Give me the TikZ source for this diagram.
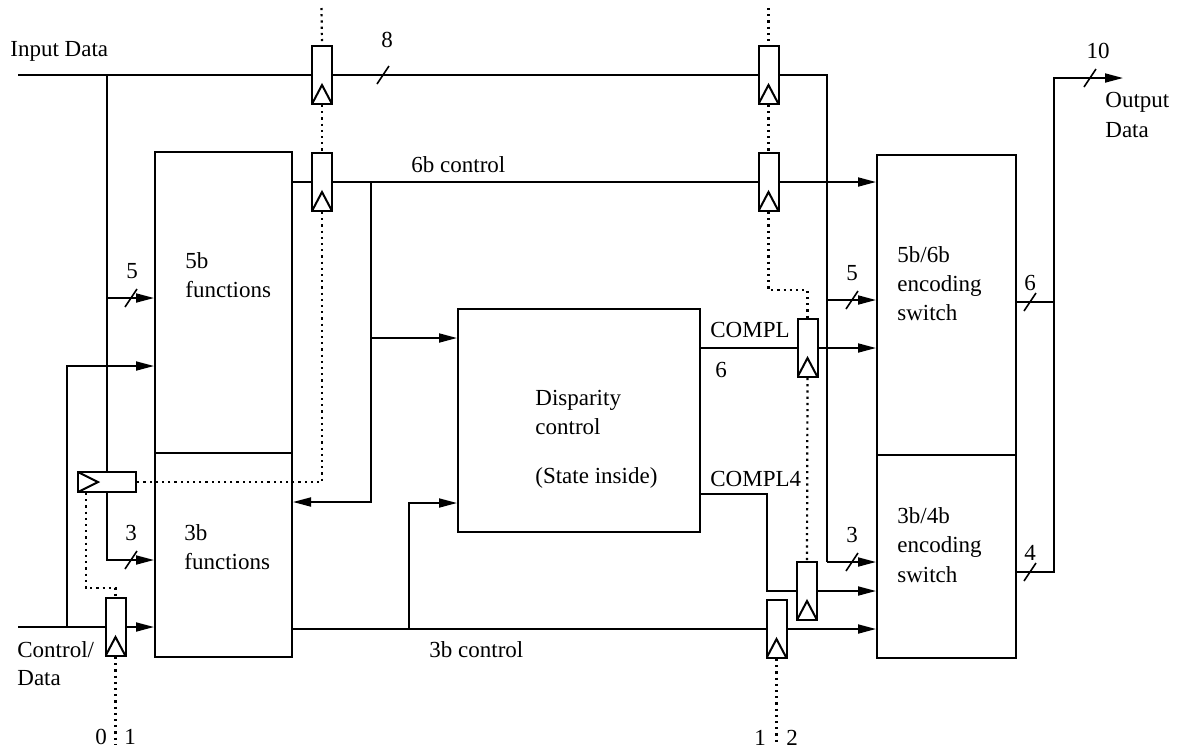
\documentclass[tikz,border=0pt]{standalone}
\usepackage{fontspec}
\setmainfont{Liberation Serif}
\usetikzlibrary{arrows.meta}
\begin{document}
\begin{tikzpicture}[x=0.5pt,y=-0.5pt,font=\fontsize{11.5}{14}\selectfont,
  box/.style={draw,line width=1pt,inner sep=0pt},
  reg/.style={draw,line width=1pt,fill=white,inner sep=0pt,minimum width=10pt,minimum height=29pt,
    path picture={\draw[line width=1pt] (path picture bounding box.south west) -- ([yshift=9.5pt]path picture bounding box.south) -- (path picture bounding box.south east);}},
  hreg/.style={draw,line width=1pt,fill=white,inner sep=0pt,minimum width=29pt,minimum height=10pt,
    path picture={\draw[line width=1pt] (path picture bounding box.north west) -- ([xshift=10pt]path picture bounding box.west) -- (path picture bounding box.south west);}},
  wire/.style={line width=0.9pt},
  arr/.style={wire,-{Triangle[length=9pt,width=4.5pt]}},
  clk/.style={line width=1.1pt,dash pattern=on 1.1pt off 2pt},
  slash/.style={line width=0.8pt},
  txt/.style={inner sep=0pt,anchor=base west},
  txc/.style={inner sep=0pt,anchor=base}]
\useasboundingbox (0,0) rectangle (1179,751);
% boxes
\node[box,minimum width=68.5pt,minimum height=150.5pt] (f5) at (223.5,302.5) {};
\node[box,minimum width=68.5pt,minimum height=102pt] (f3) at (223.5,555) {};
\node[box,minimum width=121pt,minimum height=111.5pt] (disp) at (579,420.5) {};
\node[box,minimum width=69.5pt,minimum height=150pt] (s56) at (946.5,305) {};
\node[box,minimum width=69.5pt,minimum height=101.5pt] (s34) at (946.5,556.5) {};
% registers
\node[reg] (ri1) at (322,75) {};
\node[reg] (ri2) at (768.5,75) {};
\node[reg] (rc1) at (322,182) {};
\node[reg] (rc2) at (768.5,182) {};
\node[reg] (rcp) at (807.5,348) {};
\node[reg] (rc4) at (807,591) {};
\node[reg] (r3b) at (776.5,629) {};
\node[reg] (rcd) at (115.5,627) {};
\node[hreg] (rh) at (107,482) {};
% named points
\coordinate (inL) at (18,75);
\coordinate (jR1) at (827,75);
\coordinate (jR2) at (827,562);
\coordinate (jR3) at (827,300);
\coordinate (cdL) at (18,627);
\coordinate (jC) at (67,627);
\coordinate (j6) at (371,182);
\coordinate (j6b) at (371,338);
\coordinate (j3) at (409,629);
\coordinate (jO) at (1054,302);
\coordinate (outE) at (1123,78);
% input data
\draw[wire] (inL) -- (ri1.west);
\draw[wire] (ri1.east) -- (ri2.west);
\draw[wire] (ri2.east) -- (jR1) -- (jR2);
\draw[arr] (jR2) -- (jR2 -| s34.west);
\draw[arr] (jR3) -- (jR3 -| s56.west);
\draw[wire] (rh.north |- inL) -- (rh.north);
\draw[arr] (rh.north |- 0,298) -- (f5.west |- 0,298);
\draw[arr] (rh.south) |- (f3.west |- 0,560);
% control/data
\draw[wire] (cdL) -- (rcd.west);
\draw[arr] (rcd.east) -- (rcd.east -| f3.west);
\draw[arr] (jC) |- (f5.west |- 0,366);
% 6b control
\draw[wire] (f5.east |- rc1) -- (rc1.west);
\draw[wire] (rc1.east) -- (rc2.west);
\draw[arr] (rc2.east) -- (rc2.east -| s56.west);
\draw[arr] (j6) |- (f3.east |- 0,502);
\draw[arr] (j6b) -- (j6b -| disp.west);
% 3b control
\draw[wire] (f3.east |- r3b) -- (r3b.west);
\draw[arr] (r3b.east) -- (r3b.east -| s34.west);
\draw[arr] (j3) |- (disp.west |- 0,503);
% disparity outputs
\draw[wire] (disp.east |- rcp) -- (rcp.west);
\draw[arr] (rcp.east) -- (rcp.east -| s56.west);
\draw[wire] (disp.east |- 0,494) -| (767,591) -- (rc4.west);
\draw[arr] (rc4.east) -- (rc4.east -| s34.west);
% outputs
\draw[wire] (s56.east |- jO) -- (jO);
\draw[arr] (s34.east |- 0,572) -| (jO |- outE) -- (outE);
% clocks
\draw[clk] (321.5,8) -- (ri1.north);
\draw[clk] (ri1.south) -- (rc1.north);
\draw[clk] (rc1.south) |- (rh.east);
\draw[clk] ([xshift=4.5pt]rh.south west) |- (rcd.north |- 0,588) -- (rcd.north);
\draw[clk] (rcd.south) -- (rcd.south |- 0,745);
\draw[clk] (768.5,8) -- (ri2.north);
\draw[clk] (ri2.south) -- (rc2.north);
\draw[clk] (rc2.south) |- (rcp.north |- 0,290) -- (rcp.north);
\draw[clk] (rcp.south) -- (rc4.north);
\draw[clk] (r3b.south) -- (r3b.south |- 0,745);
% bus slashes
\foreach \px/\py in {383/75,131/298,131/560,852/300,852/562,1030/302,1030/572,1090/78}
  \draw[slash] ([shift={(-6,9)}]\px,\py) -- ++(12,-18);
% labels
\node[txt] (tin) at (10,56) {Input Data};
\node[txc] (t8) at (387,47) {8};
\node[txt] (t6b) at (411,172) {6b control};
\node[txc] (t10) at (1098,58) {10};
\node[txt] (tout1) at (1105,107) {Output};
\node[txt] (tout2) at (1105,137) {Data};
\node[txc] (t5a) at (132,278) {5};
\node[txt] (tf5a) at (185,268) {5b};
\node[txt] (tf5b) at (185,297) {functions};
\node[txc] (t3a) at (131,540) {3};
\node[txt] (tf3a) at (184,540) {3b};
\node[txt] (tf3b) at (184,569) {functions};
\node[txt] (tcd1) at (17,657) {Control/};
\node[txt] (tcd2) at (17,685) {Data};
\node[txc] (t0) at (101,744) {0};
\node[txc] (t1a) at (130,744) {1};
\node[txt] (td1) at (535,405) {Disparity};
\node[txt] (td2) at (535,434) {control};
\node[txt] (td3) at (535,483) {(State inside)};
\node[txt] (tcpl) at (710,337) {COMPL};
\node[txc] (t6c) at (721,377) {6};
\node[txt] (tcpl4) at (710,486) {COMPL4};
\node[txt] (t3bc) at (429,657) {3b control};
\node[txc] (t1b) at (760,745) {1};
\node[txc] (t2) at (792,745) {2};
\node[txt] (ts1) at (897,262) {5b/6b};
\node[txt] (ts2) at (897,291) {encoding};
\node[txt] (ts3) at (897,320) {switch};
\node[txt] (ts4) at (897,523) {3b/4b};
\node[txt] (ts5) at (897,552) {encoding};
\node[txt] (ts6) at (897,582) {switch};
\node[txc] (t5b) at (852,280) {5};
\node[txc] (t3b) at (852,542) {3};
\node[txc] (t6o) at (1030,290) {6};
\node[txc] (t4o) at (1030,560) {4};
\end{tikzpicture}
\end{document}
